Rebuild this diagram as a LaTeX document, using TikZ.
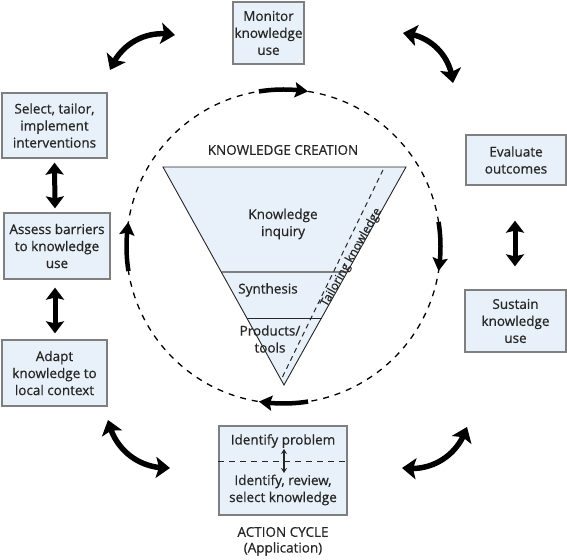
\documentclass[tikz,border=0pt]{standalone}
\usepackage{fontspec}
\setmainfont{Open Sans}
\newfontfamily\kfont{Open Sans}[FakeBold=0.6]
\usetikzlibrary{arrows.meta,bending,calc}
\definecolor{boxfill}{HTML}{E8F1F9}
\definecolor{boxline}{HTML}{7F7F7F}
\definecolor{txt}{HTML}{262626}
\tikzset{
  kbox/.style={draw=boxline,line width=1.3pt,fill=boxfill,align=center,inner sep=0pt,
    font=\kfont\fontsize{13.5}{17}\selectfont,text=txt},
  plain/.style={align=center,inner sep=0pt,font=\kfont\fontsize{13.5}{17}\selectfont,text=txt},
  bigarrow/.style={line width=5.5pt,{Stealth[length=14pt,width=21pt,inset=3pt]}-{Stealth[length=14pt,width=21pt,inset=3pt]}},
  vertarrow/.style={line width=5pt,{Stealth[length=12pt,width=18pt,inset=2pt]}-{Stealth[length=12pt,width=18pt,inset=2pt]}},
  circarrow/.style={line width=4.5pt,-{Stealth[length=13pt,width=15pt,inset=2pt]}},
  dashcircle/.style={line width=1.3pt,dash pattern=on 6pt off 6pt},
}
\begin{document}
\begin{tikzpicture}[x=1pt,y=1pt]
\useasboundingbox (0,0) rectangle (567,559);
% centre of the knowledge cycle
\coordinate (c) at (283.5,312.5);
\draw[dashcircle] (c) circle[radius=157pt];
% circle arrows (clockwise)
\draw[circarrow] ([shift={(99:157pt)}]c) arc[start angle=99,end angle=81,radius=157pt];
\draw[circarrow] ([shift={(9:157pt)}]c) arc[start angle=9,end angle=-9,radius=157pt];
\draw[circarrow] ([shift={(-81:157pt)}]c) arc[start angle=-81,end angle=-99,radius=157pt];
\draw[circarrow] ([shift={(189:157pt)}]c) arc[start angle=189,end angle=171,radius=157pt];

% triangle
\coordinate (tl) at (163,392);
\coordinate (tr) at (406,392);
\coordinate (ap) at (284,174);
\draw[fill=boxfill,draw=txt,line width=0.9pt] (tl) -- (tr) -- (ap) -- cycle;
\draw[draw=gray,line width=2pt] (221.5,287) -- (347,287);
\draw[draw=txt,line width=0.9pt] (247,241) -- (321.5,241);
\coordinate (d1) at (383,389);
\coordinate (d2) at (281,179);
\draw[txt,line width=1pt,dash pattern=on 5pt off 4pt] (d1) -- (d2);
\node[plain] (kc) at (283,409) {KNOWLEDGE CREATION};
\node[plain] (ki) at (283,335) {Knowledge\\inquiry};
\node[plain] (sy) at (268,269) {Synthesis};
\node[plain] (pt) at (270,220) {Products/\\tools};
\node[plain,rotate=60.5,font=\kfont\fontsize{12}{15}\selectfont] (tk) at (351.5,301.5) {Tailoring knowledge};

% boxes
\node[kbox,minimum width=71pt,minimum height=62pt] (mon) at (268.5,526) {Monitor\\knowledge\\use};
\node[kbox,minimum width=105pt,minimum height=65pt] (sel) at (54.5,433.5) {Select, tailor,\\implement\\interventions};
\node[kbox,minimum width=100pt,minimum height=50pt] (eva) at (516,399) {Evaluate\\outcomes};
\node[kbox,minimum width=106pt,minimum height=66pt] (ass) at (57,313) {Assess barriers\\to knowledge\\use};
\node[kbox,minimum width=101pt,minimum height=62pt] (sus) at (515.5,238) {Sustain\\knowledge\\use};
\node[kbox,minimum width=105pt,minimum height=66pt] (ada) at (54.5,186) {Adapt\\knowledge to\\local context};
\node[kbox,minimum width=128pt,minimum height=89pt] (act) at (283,88.5) {};
\node[plain] (idp) at (283,118) {Identify problem};
\node[plain] (irs) at (283,69) {Identify, review,\\select knowledge};
\draw[txt,line width=1pt,dash pattern=on 6pt off 5pt] (act.west |- 0,97) -- (act.east |- 0,97);
\draw[txt,line width=1.6pt,{Stealth[length=5pt,width=6pt]}-{Stealth[length=5pt,width=6pt]}] (284,110) -- (284,86);
\node[plain] (ac) at (283,27) {ACTION CYCLE};
\node[plain] (app) at (283,10) {(Application)};

% vertical double arrows
\draw[vertarrow] (sel.south) ++(0,-4) -- ($(ass.north)+(-2,4)$);
\draw[vertarrow] ($(ass.south)+(-2,-8)$) -- ($(ada.north)+(0.5,6)$);
\draw[vertarrow] ($(eva.south)+(-1,-35)$) -- ($(sus.north)+(-0.5,23)$);

% curved double arrows
\coordinate (a1) at (110,489);  \coordinate (b1) at (175,524);
\coordinate (a2) at (403,526);  \coordinate (b2) at (453,476);
\coordinate (a3) at (467,132);  \coordinate (b3) at (402,91);
\coordinate (a4) at (170,91);   \coordinate (b4) at (108,139);
\draw[bigarrow] (a1) to[bend left=40] (b1);
\draw[bigarrow] (a2) to[bend left=40] (b2);
\draw[bigarrow] (a3) to[bend left=40] (b3);
\draw[bigarrow] (a4) to[bend left=40] (b4);
\end{tikzpicture}
\end{document}
